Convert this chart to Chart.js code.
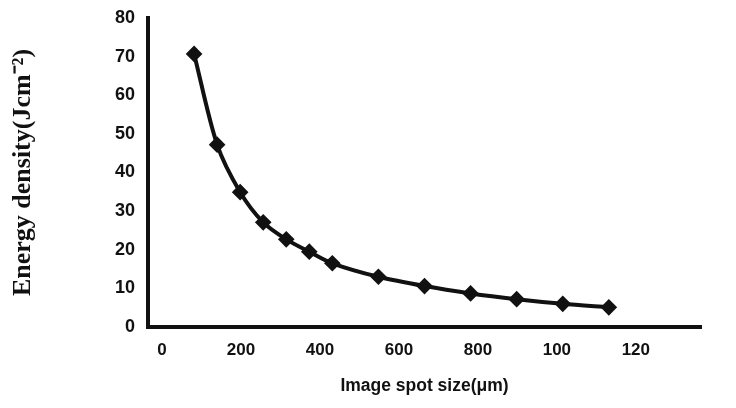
<!DOCTYPE html>
<html>
<head>
<meta charset="utf-8">
<script src="https://cdn.jsdelivr.net/npm/chart.js@4.4.1/dist/chart.umd.min.js"></script>
<style>
    html, body { margin: 0; padding: 0; background: #fff; }
    #wrap { width: 736px; height: 408px; position: relative; }
</style>
</head>
<body>
<div id="wrap"><canvas id="energyChart"></canvas></div>
<script>
// --- DATA ---
const spotSizes = [100, 150, 200, 250, 300, 350, 400, 500, 600, 700, 800, 900, 1000];
const energyDensity = [70.7, 47.2, 34.9, 27.1, 22.7, 19.5, 16.5, 13.0, 10.6, 8.7, 7.2, 6.0, 5.1];
const xTickValues = [0, 200, 400, 600, 800, 1000, 1200];
const xTickLabels = ['0', '200', '400', '600', '800', '100', '120']; // as printed (clipped)
const yTickValues = [0, 10, 20, 30, 40, 50, 60, 70, 80];

const ink = '#111';
const tickFont = { family: '"Liberation Sans", Arial, sans-serif', size: 18, weight: 'bold' };

const ctx = document.getElementById('energyChart');

new Chart(ctx, {
    type: 'line',
    data: {
        datasets: [{
            label: 'Energy density',
            data: spotSizes.map((s, i) => ({ x: s, y: energyDensity[i] })),
            borderColor: ink,
            backgroundColor: ink,
            borderWidth: 4,
            tension: 0.3,
            pointStyle: 'rectRot',
            pointRadius: 5.5,
            pointBackgroundColor: ink,
            pointBorderColor: ink,
            xAxisID: 'x',
            yAxisID: 'y'
        }]
    },
    options: {
        responsive: true,
        maintainAspectRatio: false,
        animation: false,
        layout: { padding: { top: 18, right: 35, bottom: 0, left: 0 } },
        plugins: {
            legend: { display: false },
            tooltip: { enabled: false }
        },
        scales: {
            // data scale (hidden), spans the whole plot width
            x: {
                type: 'linear',
                display: false,
                min: 0,
                max: 1200
            },
            // printed labels sit slightly compressed in the original figure
            xLabels: {
                type: 'linear',
                position: 'bottom',
                min: -35.5,
                max: 1365,
                afterBuildTicks: (scale) => {
                    scale.ticks = xTickValues.map(v => ({ value: v }));
                },
                afterFit: (scale) => { scale.height = 81; },
                grid: { display: false },
                border: { display: true, width: 4, color: ink },
                ticks: {
                    color: ink,
                    font: { family: '"Liberation Sans", Arial, sans-serif', size: 17, weight: 'bold' },
                    padding: 5,
                    maxRotation: 0,
                    autoSkip: false,
                    callback: (v) => {
                        const i = xTickValues.indexOf(v);
                        return i >= 0 ? xTickLabels[i] : '';
                    }
                },
                title: {
                    display: true,
                    text: 'Image spot size(μm)',
                    color: ink,
                    font: { family: '"Liberation Sans", Arial, sans-serif', size: 17.5, weight: 'bold' },
                    padding: { top: 0, bottom: 11 }
                }
            },
            y: {
                type: 'linear',
                min: 0,
                max: 80,
                afterBuildTicks: (scale) => {
                    scale.ticks = yTickValues.map(v => ({ value: v }));
                },
                afterFit: (scale) => { scale.width = 148; },
                grid: { display: false },
                border: { display: true, width: 4, color: ink },
                ticks: {
                    color: ink,
                    font: tickFont,
                    padding: 5
                },
                title: {
                    display: true,
                    text: 'Energy density(Jcm⁻²)',
                    color: ink,
                    font: { family: '"Liberation Serif", "Times New Roman", serif', size: 26, weight: 'bold' },
                    padding: { top: 8, bottom: 0 }
                }
            }
        }
    }
});
</script>
</body>
</html>
